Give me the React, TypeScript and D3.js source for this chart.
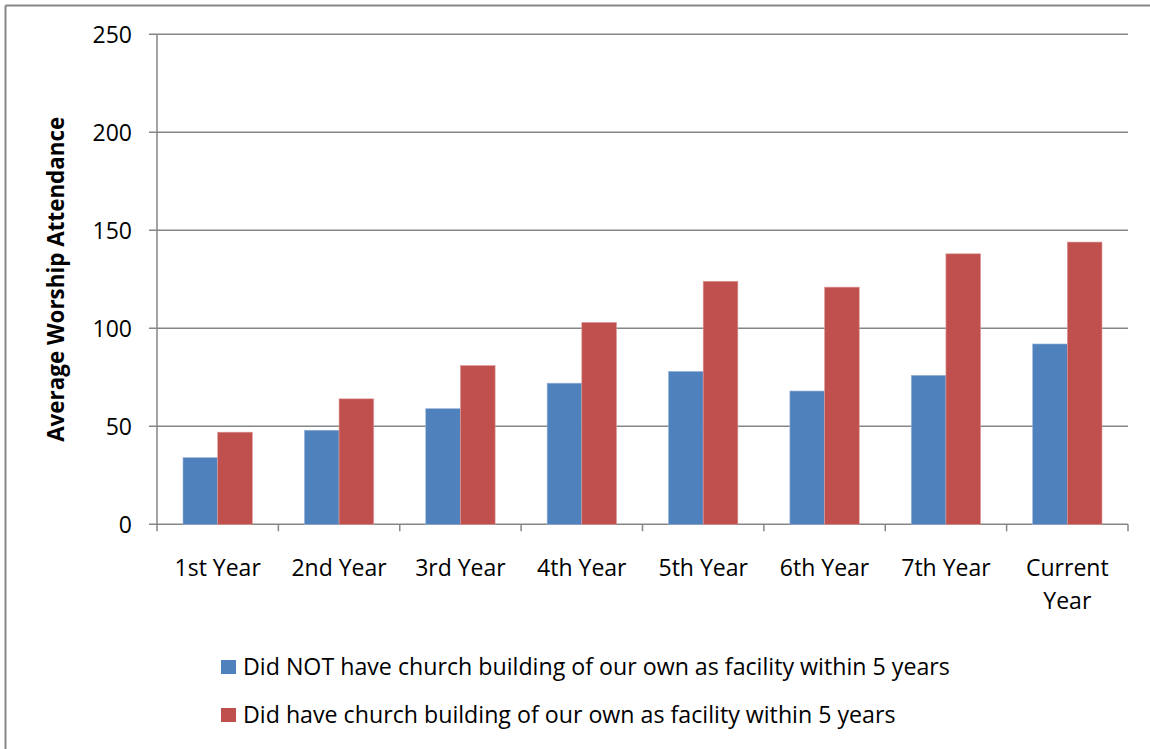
import React from "react";
import * as d3 from "d3";

const categories = ["1st Year", "2nd Year", "3rd Year", "4th Year", "5th Year", "6th Year", "7th Year", "Current Year"];
const seriesNames = [
  "Did NOT have church building of our own as facility within 5 years",
  "Did have church building of our own as facility within 5 years",
];
const notHaveValues = [34, 48, 59, 72, 78, 68, 76, 92];
const haveValues = [47, 64, 81, 103, 124, 121, 138, 144];
const yTicks = [0, 50, 100, 150, 200, 250];
const colors = ["#4F81BD", "#C0504D"];

const FONT = "'Open Sans', sans-serif";
const FS = 23;

export default function App() {
  const W = 1150, H = 749;
  const left = 157, right = 1128, top = 34.3, bottom = 524.3;
  const y = d3.scaleLinear().domain([0, 250]).range([bottom, top]);
  const x0 = d3.scaleBand<string>().domain(categories).range([left, right]).padding(0);
  const x1 = d3.scaleBand<number>().domain([0, 1]).range([0, x0.bandwidth()]).paddingInner(0).paddingOuter(0.75);
  const series = [notHaveValues, haveValues];
  const grid = "#868686";

  return (
    <svg width={W} height={H} style={{ position: "absolute", left: 0, top: 0 }} fontFamily={FONT}>
      <rect x={0} y={0} width={W} height={H} fill="white" />
      <line x1={5.5} x2={W} y1={5.5} y2={5.5} stroke="#878787" strokeWidth={2} />
      <line x1={5.5} x2={5.5} y1={5.5} y2={H} stroke="#878787" strokeWidth={2} />
      {yTicks.map((t) => (
        <g key={t}>
          <line x1={left - 8} x2={right} y1={y(t)} y2={y(t)} stroke={grid} strokeWidth={1.5} />
          <text x={left - 25} y={y(t)} dy="0.36em" textAnchor="end" fontSize={FS} fill="#000">{t}</text>
        </g>
      ))}
      <line x1={left} x2={left} y1={top} y2={bottom} stroke={grid} strokeWidth={1.5} />
      {categories.map((c, i) => (
        <g key={c}>
          {series.map((s, si) => (
            <rect
              key={si}
              x={(x0(c) as number) + (x1(si) as number)}
              y={y(s[i])}
              width={x1.bandwidth()}
              height={y(0) - y(s[i])}
              fill={colors[si]}
              stroke={si === 0 ? "#9bb5d9" : "#dc9a98"}
              strokeWidth={0.6}
            />
          ))}
        </g>
      ))}
      {[...categories.map((c) => x0(c) as number), right].map((xv, i) => (
        <line key={i} x1={xv} x2={xv} y1={bottom} y2={bottom + 7} stroke={grid} strokeWidth={1.5} />
      ))}
      {categories.map((c) => {
        const cx = (x0(c) as number) + x0.bandwidth() / 2;
        const parts = c === "Current Year" ? ["Current", "Year"] : [c];
        return (
          <text key={c} x={cx} y={575.5} textAnchor="middle" fontSize={FS} fill="#000">
            {parts.map((p, k) => (
              <tspan key={k} x={cx} dy={k === 0 ? 0 : 33}>{p}</tspan>
            ))}
          </text>
        );
      })}
      <text
        transform={`translate(64, ${(top + bottom) / 2}) rotate(-90)`}
        textAnchor="middle"
        fontSize={22.4}
        fontWeight="bold"
        fill="#000"
      >
        Average Worship Attendance
      </text>
      {seriesNames.map((n, i) => (
        <g key={n} transform={`translate(221, ${660 + i * 48})`}>
          <rect x={0} y={0} width={15} height={14} fill={colors[i]} />
          <text x={22} y={7} dy="0.36em" fontSize={23.2} fill="#000">{n}</text>
        </g>
      ))}
    </svg>
  );
}
